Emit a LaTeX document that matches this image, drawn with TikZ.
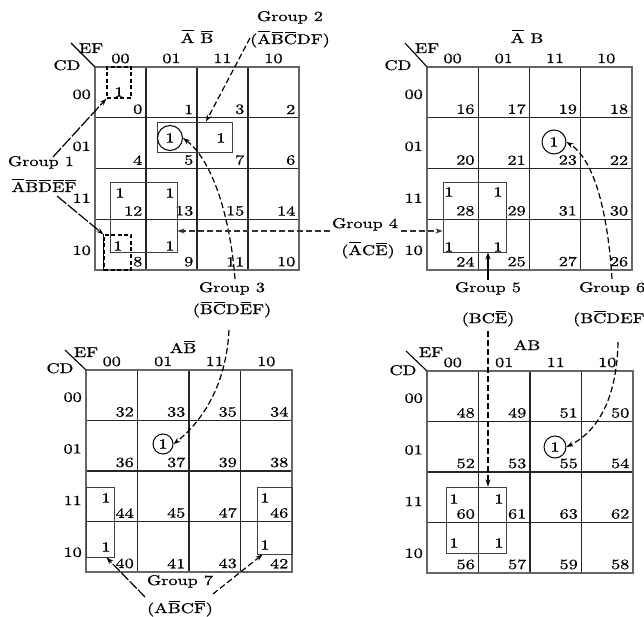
\documentclass[tikz,border=0pt]{standalone}
\usepackage{fontspec}
\setmainfont{lmroman10-regular.otf}[FakeStretch=1.3,FakeBold=0.8]
\usetikzlibrary{arrows.meta}
\newcommand\olbar[1]{\setbox0=\hbox{#1}\vbox{\offinterlineskip\hbox to \wd0{\hss\vrule width \dimexpr\wd0-1.6pt\relax height 0.8pt depth 0pt\hss}\kern1.8pt\box0}}
\tikzset{
  txt/.style={font=\fontsize{14}{16}\selectfont, inner sep=0pt, anchor=base},
  num/.style={font=\fontsize{14}{16}\selectfont, inner sep=0pt, anchor=south east},
  one/.style={font=\fontsize{14}{16}\selectfont, inner sep=0pt},
  ring/.style={one, circle, draw, line width=1pt, minimum size=#1},
  gridline/.style={line width=1.1pt, black!85},
  border/.style={line width=1.5pt, black!60},
  grpbox/.style={draw, line width=0.9pt, black!75, inner sep=0pt},
  dashbox/.style={draw, line width=1.3pt, dash pattern=on 4pt off 2.5pt, inner sep=0pt},
  arr/.style={line width=1.2pt, -{Stealth[length=7pt,width=5pt]}},
  darr/.style={arr, dash pattern=on 6pt off 3pt},
}
\begin{document}
\begin{tikzpicture}[x=1pt,y=-1pt]
\fill[white] (0,0) rectangle (644,617);
\useasboundingbox (0,0) rectangle (644,617);
% ---- the four maps ----
\foreach \m/\ox/\oy/\cw/\ch/\base in {1/95/67/51/50.8/0, 2/427/67/51.2/50.8/16, 3/86/370/51.5/50.5/32, 4/427/371/51.5/50.5/48}{
  \coordinate (m\m nw) at (\ox,\oy);
  \foreach \i in {1,2,3}{
    \draw[gridline] ({\ox+\i*\cw},{\oy}) -- ({\ox+\i*\cw},{\oy+4*\ch});
    \draw[gridline] ({\ox},{\oy+\i*\ch}) -- ({\ox+4*\cw},{\oy+\i*\ch});
  }
  \draw[border] (\ox,\oy) rectangle ({\ox+4*\cw},{\oy+4*\ch});
  \foreach \c/\ev/\lab in {0/0/00,1/1/01,2/3/11,3/2/10}{
    \node[txt] (h\m-\c) at ({\ox+(\c+0.5)*\cw},{\oy-4}) {\lab};
    \node[txt, anchor=base east] (r\m-\c) at ({\ox-4},{\oy+(\c+0.5)*\ch+6.5+1.2*\c}) {\lab};
    \foreach \r/\cv in {0/0,1/1,2/3,3/2}{
      \pgfmathtruncatemacro\n{\base+4*\cv+\ev}
      \node[num] (n\n) at ({\ox+(\c+1)*\cw-3.5},{\oy+(\r+1)*\ch-3.5}) {\n};
    }
  }
}
% corner labels
\foreach \m/\ex/\ey/\cx/\cy/\dx/\dy in {1/91/53/67/70/71/43, 2/427/53/398/70/405/43, 3/86/357/60/373/65/350, 4/431/357/403/375/406/351}{
  \node[txt] (ef\m) at (\ex,\ey) {EF};
  \node[txt] (cd\m) at (\cx,\cy) {CD};
  \coordinate (dg\m) at (\dx,\dy);
  \draw[line width=1.1pt] (dg\m) -- (m\m nw);
}
% titles
\node[txt] (t1) at (197,43) {\olbar{A} \olbar{B}};
\node[txt] (t2) at (527,43) {\olbar{A} B};
\node[txt] (t3) at (183,353) {A\olbar{B}};
\node[txt] (t4) at (527,350) {AB};
% group boxes
\node[dashbox, minimum width=24, minimum height=31] (g1a) at (119,82.5) {};
\node[dashbox, minimum width=27, minimum height=35] (g1b) at (117.5,252.5) {};
\draw[line width=1.6pt] (g1b.north west) -- (g1b.south west);
\node[grpbox, minimum width=75, minimum height=30] (g2) at (194.5,137) {};
\node[grpbox, minimum width=67, minimum height=70] (g4a) at (143.5,217) {};
\node[grpbox, minimum width=63, minimum height=70] (g4b) at (474.5,217) {};
\node[grpbox, minimum width=60, minimum height=66] (g5) at (476,520) {};
\node[grpbox, minimum width=28, minimum height=70] (g7a) at (100,522) {};
\node[grpbox, minimum width=35, minimum height=67] (g7b) at (274.5,520.5) {};
% ones
\node[one] (o0) at (119,92) {1};
\node[ring=25] (o5) at (170,138) {1};
\node[one] (o7) at (221,138) {1};
\node[one] (o12) at (120,193) {1};
\node[one] (o13) at (170,193) {1};
\node[one] (o8) at (118,246) {1};
\node[one] (o9) at (170,246) {1};
\node[one] (o28) at (449,192) {1};
\node[one] (o29) at (498,192) {1};
\node[one] (o24) at (449,247) {1};
\node[one] (o25) at (498,247) {1};
\node[ring=24] (o23) at (554,142) {1};
\node[one] (o44) at (106,498) {1};
\node[one] (o40) at (106,547) {1};
\node[one] (o46) at (265,498) {1};
\node[one] (o42) at (265,545) {1};
\node[ring=20] (o37) at (163,444) {1};
\node[one] (o60) at (454,499) {1};
\node[one] (o61) at (499,499) {1};
\node[one] (o56) at (454,543) {1};
\node[one] (o57) at (499,543) {1};
\node[ring=22] (o55) at (555,447) {1};
% group labels
\node[txt] (lg1a) at (41,166) {Group 1};
\node[txt] (lg1b) at (44,192) {\olbar{A}\olbar{B}\olbar{D}\olbar{E}\olbar{F}};
\node[txt] (lg2a) at (290,21) {Group 2};
\node[txt] (lg2b) at (290,44) {(\olbar{A}\olbar{B}\olbar{C}DF)};
\node[txt] (lg3a) at (232,292) {Group 3};
\node[txt] (lg3b) at (232,314) {(\olbar{B}\olbar{C}D\olbar{E}F)};
\node[txt] (lg4a) at (365,228) {Group 4};
\node[txt] (lg4b) at (368,255) {(\olbar{A}C\olbar{E})};
\node[txt] (lg5a) at (488,292) {Group 5};
\node[txt] (lg5b) at (488,323) {(BC\olbar{E})};
\node[txt, anchor=base west] (lg6a) at (579,292) {Group 6};
\node[txt, anchor=base west] (lg6b) at (573,323) {(B\olbar{C}DEF)};
\node[txt] (lg7a) at (180,585) {Group 7};
\node[txt] (lg7b) at (180,613) {(A\olbar{B}C\olbar{F})};
% arrows
\coordinate (a1s) at (53,157);
\draw[arr, dash pattern=on 12pt off 2pt] (a1s) -- (g1a.south west);
\coordinate (a1t) at (57,196);
\draw[arr, dash pattern=on 12pt off 2pt] (a1t) -- (g1b.north west);
\coordinate (a2s) at (250,38);
\draw[darr] (a2s) -- ([xshift=11.5pt]g2.north);
\coordinate (a3s) at (235,279);
\draw[darr] (a3s) .. controls (230,215) and (212,160) .. (o5.east);
\coordinate (a3t) at (229,330);
\draw[darr] (a3t) .. controls (226,390) and (198,425) .. (o37.east);
\coordinate (a4l) at (330,231);
\draw[darr, black!80] (a4l) -- (a4l -| g4a.east);
\coordinate (a4r) at (401,231);
\draw[darr, black!80] (a4r) -- (a4r -| g4b.west);
\coordinate (a5u) at (488,280);
\draw[arr] (a5u) -- (a5u |- g4b.south);
\coordinate (a5d) at (488,331);
\draw[darr] (a5d) -- (a5d |- g5.north);
\coordinate (a6u) at (612,279);
\draw[darr] (a6u) .. controls (608,215) and (595,160) .. (o23.east);
\coordinate (a6d) at (618,342);
\draw[darr] (a6d) .. controls (617,395) and (600,430) .. (o55.east);
\coordinate (a7l) at (145,597);
\draw[arr, dash pattern=on 10pt off 2pt] (a7l) -- ([xshift=-8pt]g7a.south east);
\coordinate (a7r) at (213,594);
\draw[darr] (a7r) -- ([xshift=6pt]g7b.south west);
\end{tikzpicture}
\end{document}
